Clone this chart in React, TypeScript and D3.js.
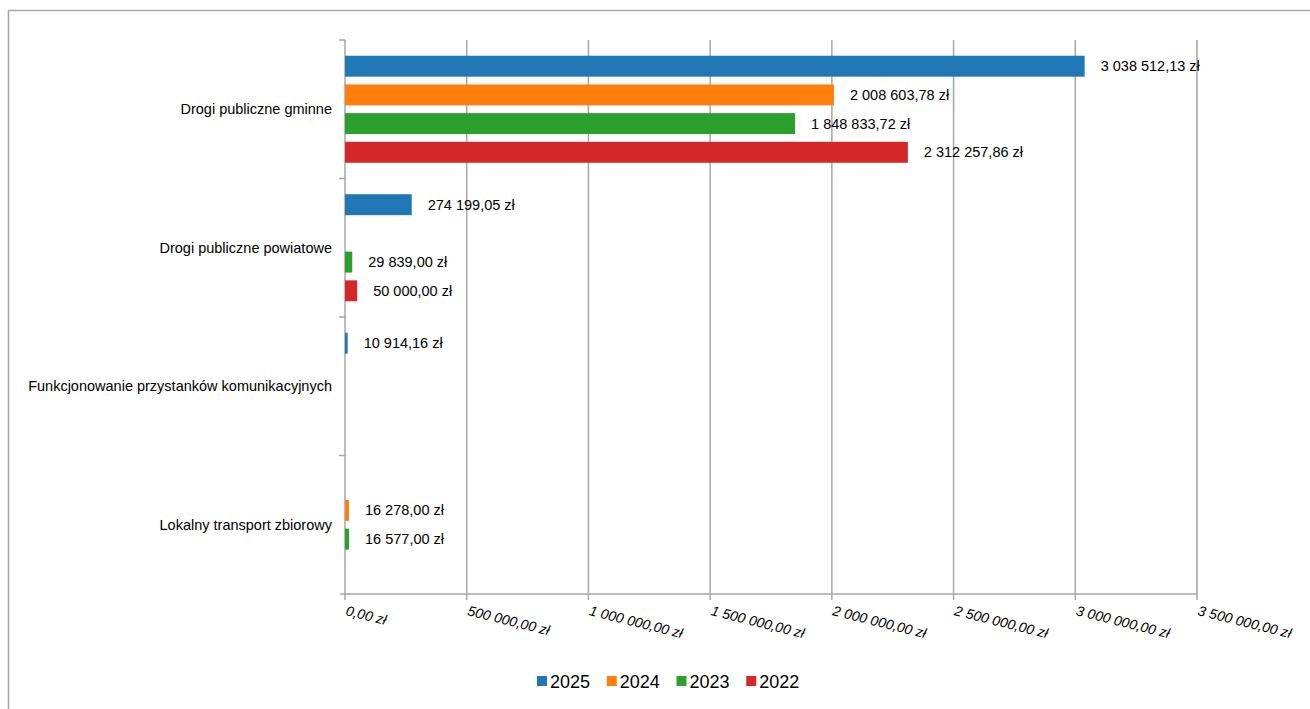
import React, { useEffect, useRef } from 'react';
import * as d3 from 'd3';

const categories = [
  'Drogi publiczne gminne',
  'Drogi publiczne powiatowe',
  'Funkcjonowanie przystanków komunikacyjnych',
  'Lokalny transport zbiorowy',
];
const series = ['2025', '2024', '2023', '2022'];
const colors = ['#1f77b4', '#ff7f0e', '#2ca02c', '#d62728'];

// values per series, aligned with categories (null = no bar)
const values2025 = [3038512.13, 274199.05, 10914.16, null];
const values2024 = [2008603.78, null, null, 16278.0];
const values2023 = [1848833.72, 29839.0, null, 16577.0];
const values2022 = [2312257.86, 50000.0, null, null];
const seriesValues = [values2025, values2024, values2023, values2022];

const xTicks = [0, 500000, 1000000, 1500000, 2000000, 2500000, 3000000, 3500000];

const W = 1310;
const H = 709;

const fmt = (v: number) => {
  const [intPart, dec] = v.toFixed(2).split('.');
  const grouped = intPart.replace(/\B(?=(\d{3})+(?!\d))/g, ' ');
  return `${grouped},${dec} zł`;
};

const App = () => {
  const ref = useRef<SVGSVGElement | null>(null);

  useEffect(() => {
    if (!ref.current) return;
    const svg = d3.select(ref.current);
    svg.selectAll('*').remove();

    const font = '"Liberation Sans", Arial, sans-serif';
    const gray = '#a6a6a6';

    // frame
    svg.append('line').attr('x1', 8).attr('x2', W).attr('y1', 10.5).attr('y2', 10.5)
      .attr('stroke', gray).attr('stroke-width', 1.5);
    svg.append('line').attr('x1', 8.5).attr('x2', 8.5).attr('y1', 10).attr('y2', H)
      .attr('stroke', gray).attr('stroke-width', 1.5);

    const left = 345, right = 1197, top = 40, bottom = 594;

    const x = d3.scaleLinear().domain([0, 3500000]).range([left, right]);
    const y0 = d3.scaleBand<string>().domain(categories).range([top, bottom]);
    const y1 = d3.scaleBand<string>().domain(series).range([0, y0.bandwidth()])
      .paddingInner(0.27).paddingOuter(0.548);

    // grid
    svg.append('g').selectAll('line').data(xTicks.slice(1)).enter().append('line')
      .attr('x1', d => x(d)).attr('x2', d => x(d))
      .attr('y1', top).attr('y2', bottom)
      .attr('stroke', gray).attr('stroke-width', 1.5);

    // bottom axis
    const ax = svg.append('g');
    ax.append('line').attr('x1', left - 5).attr('x2', right).attr('y1', bottom).attr('y2', bottom)
      .attr('stroke', gray).attr('stroke-width', 1.5);
    ax.selectAll('line.t').data(xTicks).enter().append('line').attr('class', 't')
      .attr('x1', d => x(d)).attr('x2', d => x(d))
      .attr('y1', bottom).attr('y2', bottom + 6)
      .attr('stroke', gray).attr('stroke-width', 1.5);
    ax.selectAll('text').data(xTicks).enter().append('text')
      .attr('transform', d => `translate(${x(d)},${bottom + 21}) rotate(14)`)
      .text(d => fmt(d))
      .style('font-family', font)
      .style('font-size', '14px')
      .style('font-style', 'italic')
      .style('fill', '#000');

    // left axis
    const ay = svg.append('g');
    ay.append('line').attr('x1', left).attr('x2', left).attr('y1', top).attr('y2', bottom)
      .attr('stroke', gray).attr('stroke-width', 1.5);
    const bounds = categories.map(c => y0(c) as number);
    ay.selectAll('line.t').data(bounds).enter().append('line').attr('class', 't')
      .attr('x1', left - 6).attr('x2', left)
      .attr('y1', d => d).attr('y2', d => d)
      .attr('stroke', gray).attr('stroke-width', 1.5);
    ay.selectAll('text').data(categories).enter().append('text')
      .attr('x', 332)
      .attr('y', d => (y0(d) as number) + y0.bandwidth() / 2 + 5)
      .attr('text-anchor', 'end')
      .text(d => d)
      .style('font-family', font)
      .style('font-size', '14.5px')
      .style('fill', '#000');

    // bars
    const groups = svg.append('g').selectAll('g').data(categories).enter().append('g')
      .attr('transform', d => `translate(0,${y0(d)})`);

    groups.each(function (cat, ci) {
      const g = d3.select(this);
      const rows = series
        .map((s, si) => ({ s, si, v: seriesValues[si][ci] }))
        .filter(r => r.v !== null) as { s: string; si: number; v: number }[];
      g.selectAll('rect').data(rows).enter().append('rect')
        .attr('x', left)
        .attr('y', r => y1(r.s) as number)
        .attr('width', r => x(r.v) - left)
        .attr('height', y1.bandwidth())
        .attr('fill', r => colors[r.si]);
      g.selectAll('text').data(rows).enter().append('text')
        .attr('x', r => x(r.v) + 16)
        .attr('y', r => (y1(r.s) as number) + y1.bandwidth() / 2 + 5)
        .text(r => fmt(r.v))
        .style('font-family', font)
        .style('font-size', '14.5px')
        .style('fill', '#000');
    });

    // legend
    const legend = svg.append('g');
    const lx = d3.scaleBand<string>().domain(series).range([537, 816]);
    const items = legend.selectAll('g').data(series).enter().append('g')
      .attr('transform', d => `translate(${lx(d)},676)`);
    items.append('rect').attr('width', 10).attr('height', 10)
      .attr('fill', (d, i) => colors[i]);
    items.append('text').attr('x', 13).attr('y', 11.5)
      .text(d => d)
      .style('font-family', font)
      .style('font-size', '18px')
      .style('fill', '#000');
  }, []);

  return (
    <svg ref={ref} width={W} height={H}
      style={{ position: 'absolute', left: 0, top: 0, background: '#fff' }} />
  );
};

export default App;
